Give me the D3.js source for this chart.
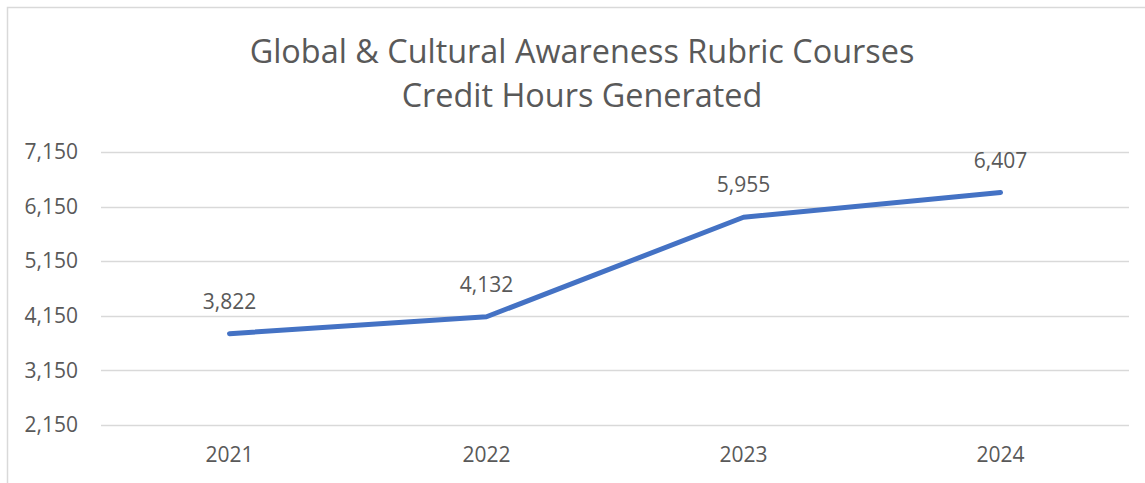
<!DOCTYPE html>
<html>
<head>
<meta charset="utf-8">
<script src="https://cdn.jsdelivr.net/npm/d3@7"></script>
<style>
  html, body { margin: 0; padding: 0; background: #ffffff; }
  svg { display: block; }
  text { font-family: "Open Sans", "Liberation Sans", sans-serif; fill: #595959; }
</style>
</head>
<body>
<svg id="chart" width="1145" height="483"></svg>
<script>
// Credit hours by academic year
const years = ["2021", "2022", "2023", "2024"];
const creditHours = [3822, 4132, 5955, 6407];
const yTicks = [2150, 3150, 4150, 5150, 6150, 7150];
const titleLines = ["Global & Cultural Awareness Rubric Courses", "Credit Hours Generated"];

const W = 1145, H = 483;
const margin = { left: 101, right: 16, top: 152, bottom: 58 };

const svg = d3.select("#chart");

// chart area frame
svg.append("rect")
  .attr("x", 7.5).attr("y", 7.5)
  .attr("width", W + 10).attr("height", H + 10)
  .attr("fill", "none")
  .attr("stroke", "#d9d9d9")
  .attr("stroke-width", 1.5);

const x = d3.scaleBand()
  .domain(years)
  .range([margin.left, W - margin.right]);

const y = d3.scaleLinear()
  .domain([2150, 7150])
  .range([H - margin.bottom, margin.top]);

// horizontal gridlines
svg.append("g")
  .selectAll("line")
  .data(yTicks)
  .join("line")
  .attr("x1", margin.left)
  .attr("x2", W - margin.right)
  .attr("y1", d => Math.round(y(d)) + 0.5)
  .attr("y2", d => Math.round(y(d)) + 0.5)
  .attr("stroke", "#d9d9d9")
  .attr("stroke-width", 1.5);

// y axis labels
const fmt = d3.format(",");
const yAxis = d3.axisLeft(y).tickValues(yTicks).tickFormat(fmt).tickSize(0).tickPadding(23);
const gy = svg.append("g")
  .attr("transform", `translate(${margin.left},0)`)
  .call(yAxis);
gy.select(".domain").remove();
gy.selectAll("text")
  .attr("font-size", 21)
  .attr("font-family", "'Open Sans', sans-serif")
  .attr("fill", "#595959");

// x axis labels
const xAxis = d3.axisBottom(x).tickSize(0).tickPadding(22);
const gx = svg.append("g")
  .attr("transform", `translate(0,${H - margin.bottom})`)
  .call(xAxis);
gx.select(".domain").remove();
gx.selectAll("text")
  .attr("font-size", 21)
  .attr("font-family", "'Open Sans', sans-serif")
  .attr("fill", "#595959");

// series line
const cx = d => x(d) + x.bandwidth() / 2;
const line = d3.line()
  .x((d, i) => cx(years[i]))
  .y(d => y(d));

svg.append("path")
  .datum(creditHours)
  .attr("d", line)
  .attr("fill", "none")
  .attr("stroke", "#4472c4")
  .attr("stroke-width", 5)
  .attr("stroke-linecap", "round")
  .attr("stroke-linejoin", "round");

// value labels above each point
svg.append("g")
  .selectAll("text")
  .data(creditHours)
  .join("text")
  .attr("x", (d, i) => cx(years[i]))
  .attr("y", d => y(d) - 25)
  .attr("text-anchor", "middle")
  .attr("font-size", 21)
  .attr("fill", "#404040")
  .text(d => fmt(d));

// title
svg.append("g")
  .selectAll("text")
  .data(titleLines)
  .join("text")
  .attr("x", 582)
  .attr("y", (d, i) => 63 + i * 44)
  .attr("text-anchor", "middle")
  .attr("font-size", 32.4)
  .attr("fill", "#595959")
  .text(d => d);
</script>
</body>
</html>
